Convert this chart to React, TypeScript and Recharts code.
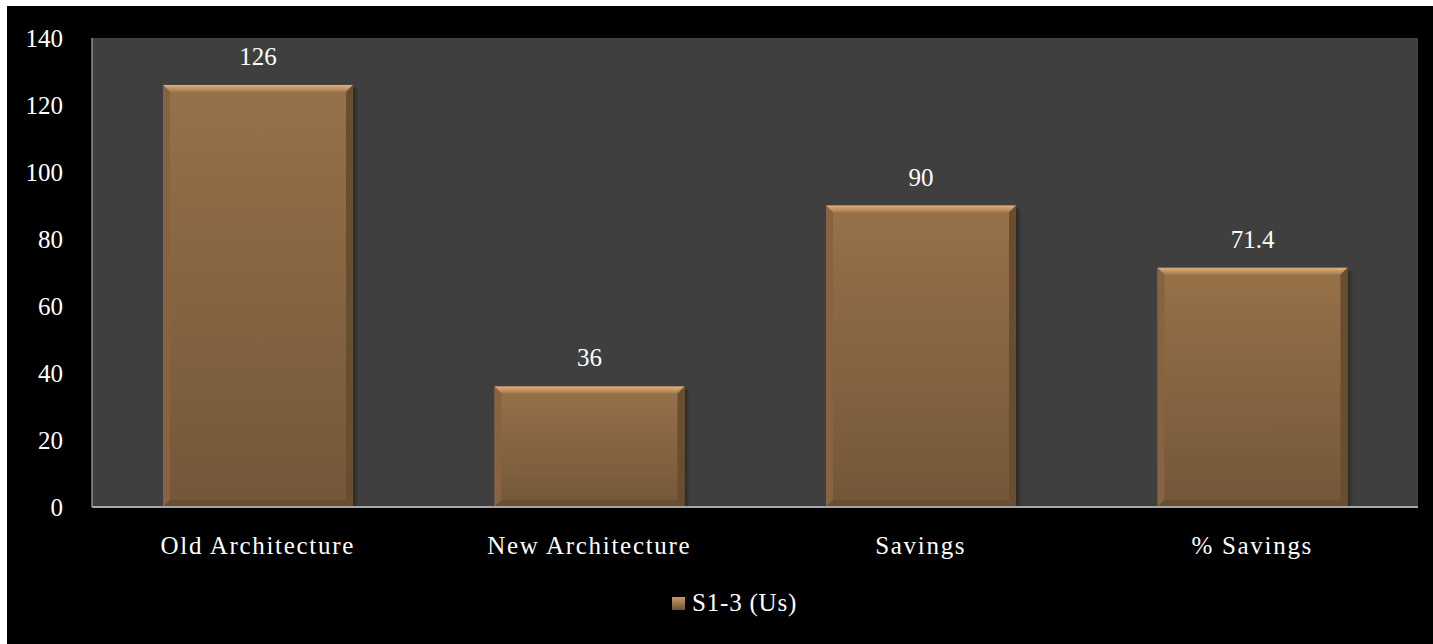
import { BarChart, Bar, XAxis, YAxis, CartesianGrid, LabelList, Legend } from 'recharts'

const categories = ['Old Architecture', 'New Architecture', 'Savings', '% Savings']
const values = [126, 36, 90, 71.4]
const yTicks = [0, 20, 40, 60, 80, 100, 120, 140]
const seriesName = 'S1-3 (Us)'

const data = categories.map((name, i) => ({ name, value: values[i] }))

const FONT = '"Liberation Serif", "DejaVu Serif", serif'

function BevelBar(props: any) {
  const { x, y, width: w, height: h, index } = props
  if (!h || h <= 0) return null
  const b = 7
  const id = `bar-grad-${index}`
  return (
    <g>
      <defs>
        <linearGradient id={id} x1="0" y1="0" x2="0" y2="1">
          <stop offset="0%" stopColor="#977149" />
          <stop offset="100%" stopColor="#735739" />
        </linearGradient>
        <linearGradient id={`${id}-top`} x1="0" y1="0" x2="0" y2="1">
          <stop offset="0%" stopColor="#e2b07d" />
          <stop offset="100%" stopColor="#a27a4e" />
        </linearGradient>
        <linearGradient id={`${id}-sh`} x1="0" y1="0" x2="1" y2="0">
          <stop offset="0%" stopColor="#000" stopOpacity={0.35} />
          <stop offset="100%" stopColor="#000" stopOpacity={0} />
        </linearGradient>
      </defs>
      <rect x={x + w} y={y + 3} width={6} height={h - 3} fill={`url(#${id}-sh)`} />
      <rect x={x} y={y} width={w} height={h} fill={`url(#${id})`} />
      <polygon
        points={`${x},${y} ${x + w},${y} ${x + w - b},${y + b} ${x + b},${y + b}`}
        fill={`url(#${id}-top)`}
      />
      <polygon
        points={`${x},${y} ${x + b},${y + b} ${x + b},${y + h - b} ${x},${y + h}`}
        fill="#87633f"
      />
      <polygon
        points={`${x + w},${y} ${x + w},${y + h} ${x + w - b},${y + h - b} ${x + w - b},${y + b}`}
        fill="#694d2f"
      />
      <polygon
        points={`${x},${y + h} ${x + w},${y + h} ${x + w - b},${y + h - b} ${x + b},${y + h - b}`}
        fill="#684e33"
      />
    </g>
  )
}

function LegendContent() {
  return (
    <div style={{ display: 'flex', alignItems: 'center', height: 30 }}>
      <svg width={13} height={13} style={{ marginRight: 7 }}>
        <defs>
          <linearGradient id="leg-grad" x1="0" y1="0" x2="0" y2="1">
            <stop offset="0%" stopColor="#c89a68" />
            <stop offset="100%" stopColor="#6e5234" />
          </linearGradient>
        </defs>
        <rect x={0} y={0} width={13} height={13} fill="url(#leg-grad)" />
      </svg>
      <span style={{ color: '#fff', fontFamily: FONT, fontSize: 25, letterSpacing: 0.8 }}>{seriesName}</span>
    </div>
  )
}

export default function App() {
  return (
    <div
      style={{
        position: 'fixed',
        left: 7,
        top: 6,
        width: 1426,
        height: 638,
        background: '#000',
      }}
    >
      <BarChart
        width={1426}
        height={638}
        data={data}
        margin={{ top: 32, right: 15, left: 0, bottom: 77 }}
      >
        <CartesianGrid fill="#3f3f3f" horizontal={false} vertical={false} />
        <XAxis
          dataKey="name"
          height={60}
          tickLine={false}
          tickSize={0}
          tickMargin={29}
          axisLine={{ stroke: '#a6a6a6', strokeWidth: 2 }}
          tick={{ fill: '#fff', fontSize: 25, fontFamily: FONT, letterSpacing: 1.7 }}
          interval={0}
        />
        <YAxis
          width={85}
          domain={[0, 140]}
          ticks={yTicks}
          tickLine={false}
          tickSize={0}
          tickMargin={29}
          axisLine={{ stroke: '#8c8c8c', strokeWidth: 1.5 }}
          tick={{ fill: '#fff', fontSize: 25, fontFamily: FONT }}
        />
        <Legend
          layout="horizontal"
          verticalAlign="middle"
          align="center"
          content={LegendContent}
          wrapperStyle={{ top: 582, left: 665, width: 220, height: 30 }}
        />
        <Bar dataKey="value" name={seriesName} barSize={190} shape={BevelBar} isAnimationActive={false}>
          <LabelList
            dataKey="value"
            position="top"
            offset={20}
            fill="#fff"
            fontSize={25}
            fontFamily={FONT}
          />
        </Bar>
      </BarChart>
    </div>
  )
}
